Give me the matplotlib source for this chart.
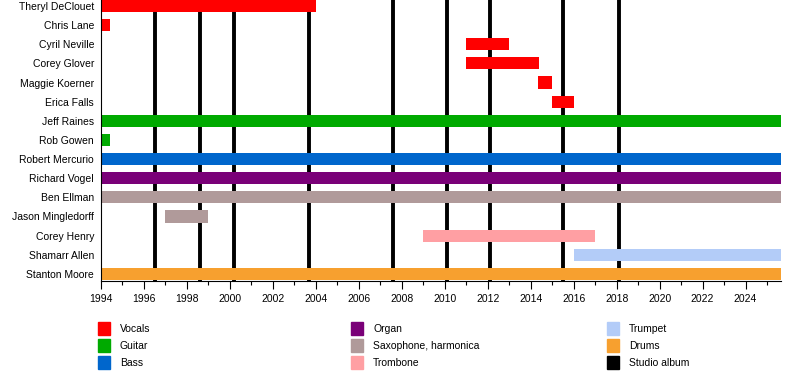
import matplotlib.pyplot as plt
from matplotlib.patches import Rectangle

plt.rcParams['font.family'] = ['Liberation Sans', 'DejaVu Sans']

# members, top to bottom
members = ["Theryl DeClouet", "Chris Lane", "Cyril Neville", "Corey Glover",
           "Maggie Koerner", "Erica Falls", "Jeff Raines", "Rob Gowen",
           "Robert Mercurio", "Richard Vogel", "Ben Ellman", "Jason Mingledorff",
           "Corey Henry", "Shamarr Allen", "Stanton Moore"]
start = [1994, 1994, 2011, 2011, 2014.35, 2015, 1994, 1994,
         1994, 1994, 1994, 1997, 2009, 2016, 1994]
end_now = 2025.65
end = [2004, 1994.4, 2013, 2014.4, 2015, 2016, end_now, 1994.4,
       end_now, end_now, end_now, 1999, 2017, end_now, end_now]
role = ["Vocals", "Vocals", "Vocals", "Vocals", "Vocals", "Vocals", "Guitar", "Guitar",
        "Bass", "Organ", "Saxophone, harmonica", "Saxophone, harmonica",
        "Trombone", "Trumpet", "Drums"]

albums = [1996.5, 1998.6, 2000.2, 2003.7, 2007.6, 2010.1, 2012.1, 2015.5, 2018.1]

legend_labels = ["Vocals", "Guitar", "Bass",
                 "Organ", "Saxophone, harmonica", "Trombone",
                 "Trumpet", "Drums", "Studio album"]
colors = {"Vocals": "#FF0000", "Guitar": "#00AA00", "Bass": "#0066CC",
          "Organ": "#7A0078", "Saxophone, harmonica": "#B09A9A",
          "Trombone": "#FF9FA3", "Trumpet": "#B3CCF8", "Drums": "#F7A02F",
          "Studio album": "#000000"}

fig = plt.figure(figsize=(8, 3.75), dpi=100)
ax = fig.add_axes([101 / 800, 1 - 281 / 375, 680 / 800, 281 / 375])

for a in albums:
    ax.axvline(a, color="black", lw=2.8, zorder=1)

for i, name in enumerate(members):
    ax.barh(i, end[i] - start[i], left=start[i], height=0.63,
            color=colors[role[i]], zorder=2)

ax.set_ylim(14.37, -0.31)
ax.set_xlim(1994, end_now)
ax.set_yticks(range(len(members)))
ax.set_yticklabels(members, fontsize=7.5)
ax.tick_params(axis="y", length=0, pad=5)
ax.set_xticks(range(1994, 2026, 2))
ax.set_xticks(range(1995, 2026, 2), minor=True)
ax.tick_params(axis="x", which="major", length=6, labelsize=7.5, pad=3, width=0.8)
ax.tick_params(axis="x", which="minor", length=3, width=0.8)
ax.spines["top"].set_visible(False)
ax.spines["right"].set_visible(False)

# legend drawn in pixel coordinates
lax = fig.add_axes([0, 0, 1, 1])
lax.set_xlim(0, 800)
lax.set_ylim(375, 0)
lax.axis("off")
col_x = [98, 351, 607]
row_y = [322, 339, 356]
for k, lab in enumerate(legend_labels):
    x = col_x[k // 3]
    y = row_y[k % 3]
    lax.add_patch(Rectangle((x, y), 12, 13, color=colors[lab]))
    lax.text(x + 22, y + 7, lab, fontsize=7.5, va="center", ha="left")

fig.savefig("out.png")
